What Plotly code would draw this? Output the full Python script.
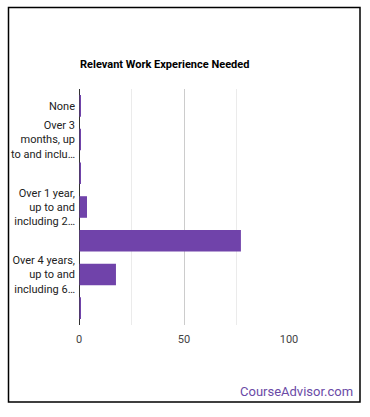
import plotly.graph_objects as go

categories = [
    "None",
    "Over 3 months, up to and including 6 months",
    "Over 6 months, up to and including 1 year",
    "Over 1 year, up to and including 2 years",
    "Over 2 years, up to and including 4 years",
    "Over 4 years, up to and including 6 years",
    "Over 6 years, up to and including 8 years",
]
values = [0.5, 0.5, 0.5, 3.8, 77.1, 17.6, 0.7]
tick_labels = [
    "None",
    "Over 3<br>months, up<br>to and inclu…",
    "",
    "Over 1 year,<br>up to and<br>including 2…",
    "",
    "Over 4 years,<br>up to and<br>including 6…",
    "",
]
x_ticks = [0, 50, 100]

fig = go.Figure(
    go.Bar(
        x=values,
        y=categories,
        orientation="h",
        marker=dict(color="#7043aa", line=dict(width=0)),
        hoverinfo="x+y",
    )
)

W, H = 370, 417
L, R, T, B = 79, 81, 89, 92
pw, ph = W - L - R, H - T - B

def px_to_paper_x(px):
    return (px - L) / pw

def px_to_paper_y(py):
    return (H - B - py) / ph

fig.update_layout(
    width=W,
    height=H,
    margin=dict(l=L, r=R, t=T, b=B),
    paper_bgcolor="white",
    plot_bgcolor="white",
    bargap=0.36,
    showlegend=False,
    font=dict(family="Roboto, Arial, sans-serif", size=11, color="#222222"),
    xaxis=dict(
        range=[0, 100],
        tickvals=x_ticks,
        ticktext=[str(v) for v in x_ticks],
        showgrid=True,
        gridcolor="#cccccc",
        gridwidth=1,
        zeroline=True,
        zerolinecolor="#333333",
        zerolinewidth=1,
        showline=False,
        ticks="",
        ticklabelstandoff=6,
        tickfont=dict(size=11, color="#444444"),
        minor=dict(dtick=25, tick0=0, showgrid=True, gridcolor="#ebebeb", gridwidth=1),
        fixedrange=True,
    ),
    yaxis=dict(
        autorange="reversed",
        tickmode="array",
        tickvals=categories,
        ticktext=tick_labels,
        showgrid=False,
        zeroline=False,
        showline=False,
        ticks="",
        ticklabelstandoff=3,
        tickfont=dict(size=11, color="#222222"),
        fixedrange=True,
    ),
    shapes=[
        dict(
            type="rect",
            xref="paper",
            yref="paper",
            x0=px_to_paper_x(8.5),
            x1=px_to_paper_x(360),
            y0=px_to_paper_y(402),
            y1=px_to_paper_y(7.5),
            line=dict(color="#000000", width=1.5),
            fillcolor="rgba(0,0,0,0)",
            layer="below",
        ),
        dict(
            type="line",
            xref="x",
            yref="paper",
            x0=0,
            x1=0,
            y0=0,
            y1=1,
            line=dict(color="#333333", width=1),
            layer="above",
        ),
    ],
    annotations=[
        dict(
            text="<b>Relevant Work Experience Needed</b>",
            xref="paper",
            yref="paper",
            x=px_to_paper_x(78),
            y=px_to_paper_y(64),
            xanchor="left",
            yanchor="middle",
            showarrow=False,
            font=dict(size=11, color="#000000"),
        ),
        dict(
            text="CourseAdvisor.com",
            xref="paper",
            yref="paper",
            x=px_to_paper_x(355),
            y=px_to_paper_y(391),
            xanchor="right",
            yanchor="middle",
            showarrow=False,
            font=dict(size=13, color="#6a4aa6"),
        ),
    ],
)

fig.write_html(
    "out.html",
    config={"displayModeBar": False},
    post_script="document.body.style.margin='0';document.body.style.overflow='hidden';",
)
